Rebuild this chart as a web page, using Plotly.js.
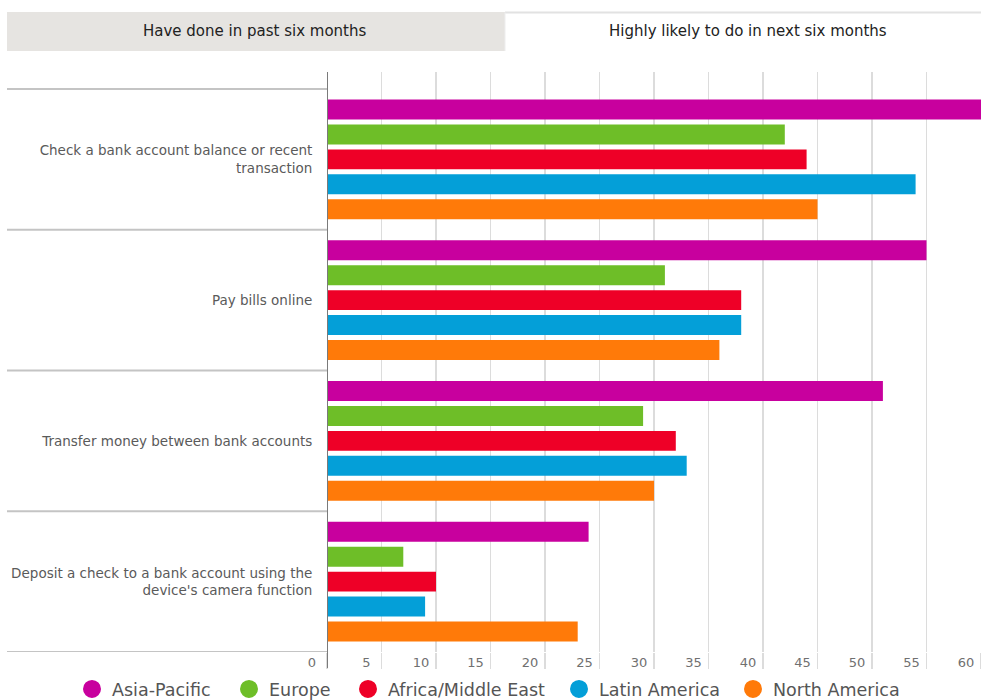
<!DOCTYPE html>
<html><head><meta charset="utf-8">
<script src="https://cdn.plot.ly/plotly-3.0.1.min.js"></script>
<style>html,body{margin:0;padding:0;background:#fff}#chart{width:981px;height:700px}</style>
</head><body><div id="chart"></div>
<script>
const categories = [
  "Check a bank account balance or recent<br>transaction",
  "Pay bills online",
  "Transfer money between bank accounts",
  "Deposit a check to a bank account using the<br>device's camera function"
];
const regionNames = ["Asia-Pacific", "Europe", "Africa/Middle East", "Latin America", "North America"];
const asiaPacific = [60, 55, 51, 24];
const europe = [42, 31, 29, 7];
const africaMiddleEast = [44, 38, 32, 10];
const latinAmerica = [54, 38, 33, 9];
const northAmerica = [45, 36, 30, 23];
const xTickValues = [0, 5, 10, 15, 20, 25, 30, 35, 40, 45, 50, 55, 60];
const tabLabels = ["Have done in past six months", "Highly likely to do in next six months"];

const seriesValues = [asiaPacific, europe, africaMiddleEast, latinAmerica, northAmerica];
const colors = ["#c8009e", "#6ebe28", "#ee0027", "#049fd8", "#ff7a09"];
const legendCenters = [91, 248, 367, 578, 752];

const W = 981, H = 700, L = 327, R = 0, T = 72, B = 48;
const pw = W - L - R, ph = H - T - B;
const px = v => (v - L) / pw;
const py = v => (H - B - v) / ph;
const FONT = "DejaVu Sans, Liberation Sans, Arial, sans-serif";

const traces = [];
seriesValues.forEach((vals, i) => {
  traces.push({
    type: "bar", orientation: "h", name: regionNames[i],
    y: categories, x: vals,
    marker: { color: colors[i] },
    showlegend: false, hoverinfo: "x+name"
  });
});
regionNames.forEach((n, i) => {
  traces.push({
    type: "scatter", mode: "markers", name: n,
    x: [null], y: [null],
    marker: { color: colors[i], size: 16, symbol: "circle", line: { color: colors[i], width: 2 } },
    legend: i === 0 ? "legend" : "legend" + (i + 1),
    showlegend: true, hoverinfo: "skip"
  });
});

const shapes = [];
// tabs
shapes.push({ type: "rect", xref: "paper", yref: "paper", x0: px(7), x1: px(505), y0: py(51), y1: py(12),
  fillcolor: "#e6e4e1", line: { width: 0 }, layer: "below" });
shapes.push({ type: "line", xref: "paper", yref: "paper", x0: px(505), x1: px(981), y0: py(12.5), y1: py(12.5),
  line: { color: "#e2e2e2", width: 2 } });
shapes.push({ type: "line", xref: "paper", yref: "paper", x0: px(505), x1: px(505), y0: py(51), y1: py(12.5),
  line: { color: "#eeeeee", width: 1 } });
// category separators
for (let k = 0; k <= categories.length; k++) {
  shapes.push({ type: "line", xref: "paper", yref: "y", x0: px(7), x1: 0, y0: k - 0.5, y1: k - 0.5,
    line: { color: "#c4c4c4", width: 2 } });
}
// vertical axis line
shapes.push({ type: "line", xref: "x", yref: "paper", x0: 0, x1: 0, y0: py(668), y1: 1,
  line: { color: "#7a7a7a", width: 2 }, layer: "above" });

const annotations = [
  { text: tabLabels[0], xref: "paper", yref: "paper", x: px(254), y: py(31), xanchor: "center", yanchor: "middle",
    showarrow: false, font: { family: FONT, size: 15, color: "#222" } },
  { text: tabLabels[1], xref: "paper", yref: "paper", x: px(748), y: py(31), xanchor: "center", yanchor: "middle",
    showarrow: false, font: { family: FONT, size: 15, color: "#222" } }
];

const layout = {
  width: W, height: H,
  margin: { l: L, r: R, t: T, b: B, pad: 0 },
  paper_bgcolor: "#fff", plot_bgcolor: "#fff",
  font: { family: FONT, color: "#555" },
  barmode: "group", bargap: 0.112, bargroupgap: 0.2,
  xaxis: {
    range: [0, 60], tickvals: xTickValues, ticktext: xTickValues.map(String),
    showgrid: true, gridcolor: "#dcdcdc", gridwidth: 1.5, zeroline: false, showline: false,
    ticks: "outside", ticklen: 16, tickcolor: "#dcdcdc", tickwidth: 1.5,
    ticklabelstandoff: -18, ticklabelshift: -15,
    tickfont: { family: FONT, size: 13, color: "#707070" }, automargin: false, fixedrange: true
  },
  yaxis: {
    type: "category", categoryorder: "array", categoryarray: categories,
    range: [categories.length - 0.5, -0.5 - (89 - 72) / (ph / (categories.length + (89 - 72) / 140.75))],
    showgrid: false, zeroline: false, showline: false,
    ticks: "outside", ticklen: 11, tickcolor: "rgba(0,0,0,0)",
    tickfont: { family: FONT, size: 13.5, color: "#5a5a5a" }, automargin: false, fixedrange: true
  },
  shapes: shapes, annotations: annotations,
  showlegend: true
};
regionNames.forEach((n, i) => {
  const key = i === 0 ? "legend" : "legend" + (i + 1);
  layout[key] = {
    xref: "container", yref: "container", x: (legendCenters[i] - 19) / W, xanchor: "left",
    y: (H - 689) / H, yanchor: "middle", orientation: "h", bgcolor: "rgba(0,0,0,0)",
    borderwidth: 0, font: { family: FONT, size: 17.5, color: "#555" }, itemsizing: "trace"
  };
});

Plotly.newPlot("chart", traces, layout, { displayModeBar: false, staticPlot: true });
</script>
</body></html>
